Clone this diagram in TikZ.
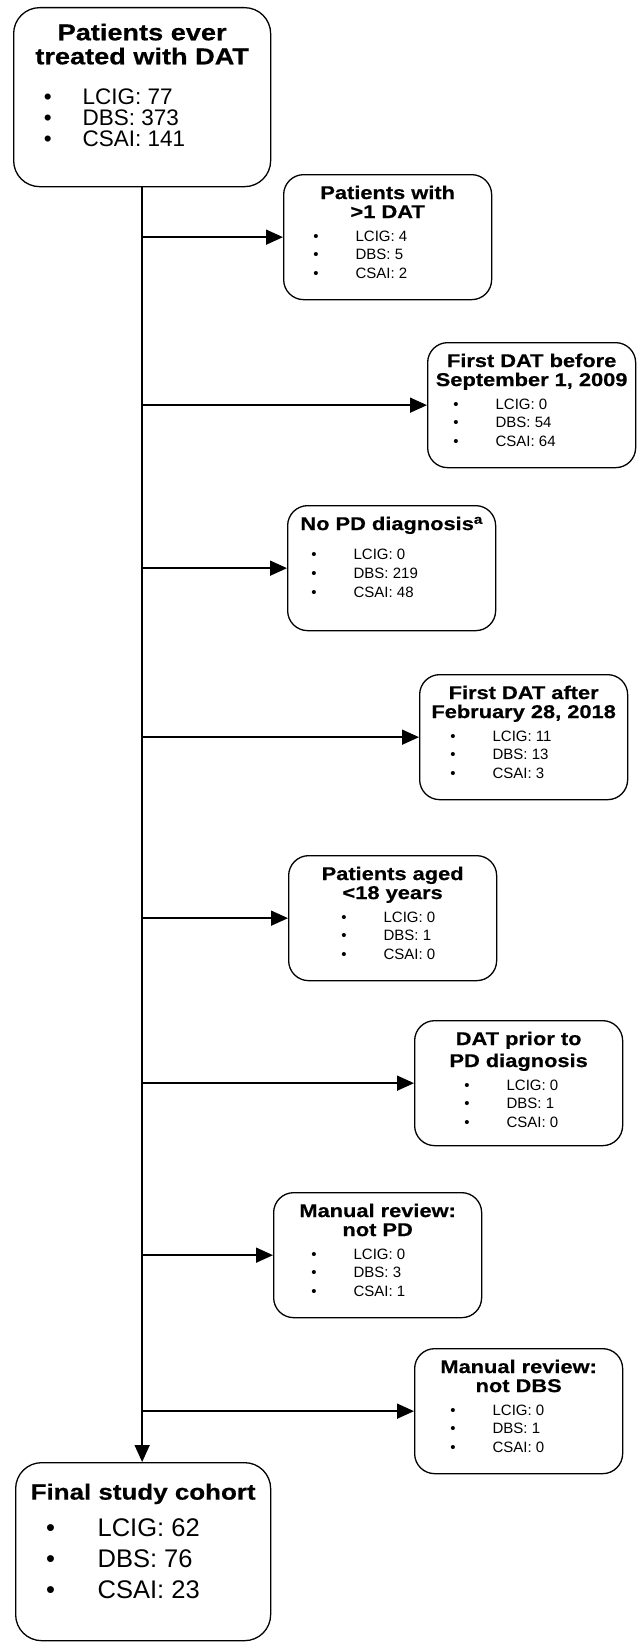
\documentclass[tikz,border=0pt]{standalone}
\usepackage{fontspec}
\setmainfont{Liberation Sans}
\newfontfamily\headfont[FakeStretch=1.18, FakeBold=0.6]{Liberation Sans Bold}
\usetikzlibrary{arrows.meta}

% one line of a count list: text start, bullet gap, text
\newcommand\countline[3]{\makebox[\linewidth][l]{\hspace*{#1}\llap{\textbullet\hspace*{#2}}#3}\par}
% exclusion box: title, skip, text start, LCIG, DBS, CSAI
\newcommand\exclbox[6]{\parbox[t][125pt][t]{208pt}{\centering
    \vspace*{11pt}%
    {\headfont\fontsize{18.5}{19}\selectfont #1\par}%
    \vspace{#2}%
    \fontsize{15}{18.7}\selectfont
    \countline{#3}{37pt}{LCIG: #4}%
    \countline{#3}{37pt}{DBS: #5}%
    \countline{#3}{37pt}{CSAI: #6}}}

\begin{document}
\begin{tikzpicture}[x=1pt, y=-1pt,
    cohort/.style={draw, line width=1.3pt, rounded corners=26pt, inner sep=0pt, anchor=north west},
    excl/.style={draw, line width=1.3pt, rounded corners=20pt, inner sep=0pt, anchor=north west},
    arrow/.style={-{Triangle[length=17pt, width=15pt]}, line width=1.6pt}
]
\useasboundingbox (0,0) rectangle (637,1646);
% Start cohort
\node[cohort] (start) at (13,7) {\parbox[t][179pt][t]{257pt}{\centering
    \vspace*{16pt}%
    {\headfont\fontsize{23}{24}\selectfont Patients ever\\treated with DAT\par}%
    \vspace{19pt}%
    \fontsize{22.5}{21}\selectfont
    \countline{69pt}{31pt}{LCIG: 77}%
    \countline{69pt}{31pt}{DBS: 373}%
    \countline{69pt}{31pt}{CSAI: 141}}};
% Exclusions
\node[excl] (twodat) at (283,174) {\exclbox{Patients with\\>1 DAT}{4.3pt}{72pt}{4}{5}{2}};
\node[excl] (early) at (427,342) {\exclbox{First DAT before\\September 1, 2009}{4.3pt}{68pt}{0}{54}{64}};
\node[excl] (nopd) at (287,505) {\exclbox{No PD diagnosis\textsuperscript{a}}{11pt}{66pt}{0}{219}{48}};
\node[excl] (late) at (419,674) {\exclbox{First DAT after\\February 28, 2018}{4.3pt}{73pt}{11}{13}{3}};
\node[excl] (minor) at (288,855) {\exclbox{Patients aged\\<18 years}{4.3pt}{95pt}{0}{1}{0}};
\node[excl] (prior) at (414,1020) {\exclbox{DAT prior to\\[3pt]PD diagnosis}{4.3pt}{92pt}{0}{1}{0}};
\node[excl] (notpd) at (273,1192) {\exclbox{Manual review:\\not PD}{4.3pt}{80pt}{0}{3}{1}};
\node[excl] (notdbs) at (414,1348) {\exclbox{Manual review:\\not DBS}{4.3pt}{78pt}{0}{1}{0}};
% Final cohort
\node[cohort] (final) at (15,1462) {\parbox[t][178pt][t]{255pt}{\centering
    \vspace*{21pt}%
    {\headfont\fontsize{22}{24}\selectfont Final study cohort\par}%
    \vspace{6pt}%
    \fontsize{25.5}{31}\selectfont
    \countline{82pt}{42.5pt}{LCIG: 62}%
    \countline{82pt}{42.5pt}{DBS: 76}%
    \countline{82pt}{42.5pt}{CSAI: 23}}};
% Arrows
\draw[arrow] (start.south) -- (start.south |- final.north);
\draw[arrow] (start.south |- twodat.west) -- (twodat.west);
\draw[arrow] (start.south |- early.west) -- (early.west);
\draw[arrow] (start.south |- nopd.west) -- (nopd.west);
\draw[arrow] (start.south |- late.west) -- (late.west);
\draw[arrow] (start.south |- minor.west) -- (minor.west);
\draw[arrow] (start.south |- prior.west) -- (prior.west);
\draw[arrow] (start.south |- notpd.west) -- (notpd.west);
\draw[arrow] (start.south |- notdbs.west) -- (notdbs.west);
\end{tikzpicture}
\end{document}
